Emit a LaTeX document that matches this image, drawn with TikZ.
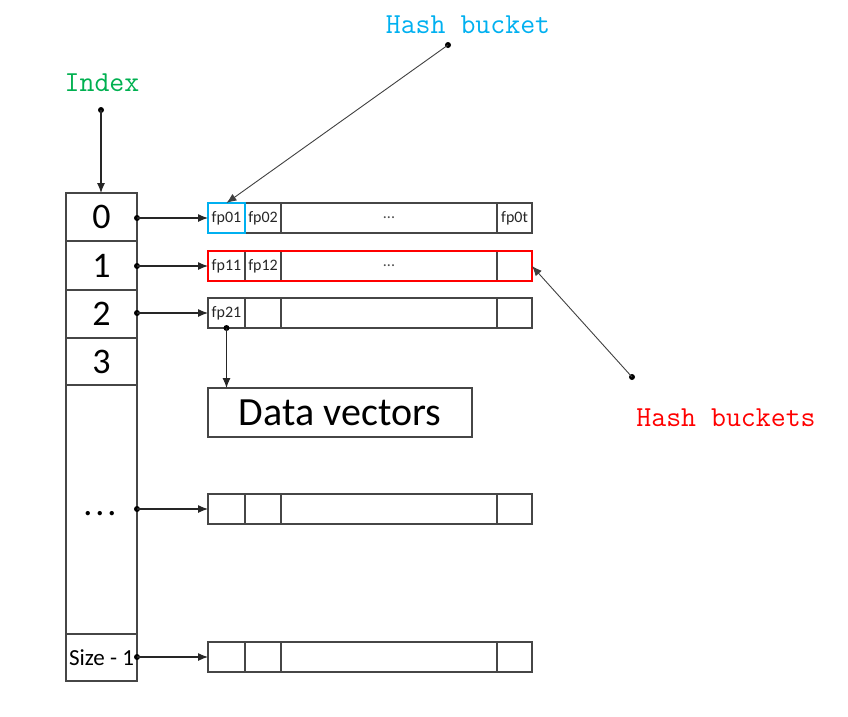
\documentclass[tikz,border=0pt]{standalone}
\usepackage{fontspec}
\setsansfont{Carlito}
\usetikzlibrary{arrows.meta}
\definecolor{linegray}{RGB}{70,70,70}
\definecolor{idxgreen}{RGB}{0,176,80}
\definecolor{hbblue}{RGB}{0,176,240}
\definecolor{hbred}{RGB}{255,0,0}
\tikzset{
  x=1pt, y=-1pt,
  box/.style={draw=linegray, line width=1.2pt, rectangle, inner sep=0pt, outer sep=0pt, anchor=north west},
  idxcell/.style={box, minimum width=71pt, font=\sffamily\fontsize{36}{36}\selectfont},
  bcell/.style={box, minimum height=30pt, font=\sffamily\fontsize{16}{16}\selectfont, text=black!85},
  ptr/.style={draw=black!85, line width=1.1pt, -{Latex[length=10pt,width=8pt]}},
  lead/.style={draw=black!75, line width=0.9pt, -{Latex[length=10pt,width=8pt]}},
  dot/.style={fill=black},
  lbl/.style={font=\ttfamily\fontsize{29}{29}\selectfont}
}
\newcommand{\bucketrow}[5]{%
  \node[bcell, minimum width=37pt] (#1a) at (208,#2) {#3};
  \node[bcell, minimum width=36pt] (#1b) at (245,#2) {#4};
  \node[bcell, minimum width=216pt] (#1c) at (281,#2) {};
  \node[bcell, minimum width=35pt] (#1d) at (497,#2) {#5};
}
\begin{document}
\begin{tikzpicture}
\useasboundingbox (0,0) rectangle (848,716);
% index column
\node[idxcell, minimum height=48pt] (i0) at (66,193) {0};
\node[idxcell, minimum height=49pt] (i1) at (66,241) {1};
\node[idxcell, minimum height=48pt] (i2) at (66,290) {2};
\node[idxcell, minimum height=47pt] (i3) at (66,338) {3};
\node[idxcell, minimum height=249pt] (idots) at (66,385) {};
\node[font=\sffamily\fontsize{36}{36}\selectfont] (idotstxt) at (100,514) {.\hspace{3pt}.\hspace{3pt}.};
\node[idxcell, minimum height=47pt, font=\sffamily\fontsize{23}{23}\selectfont] (ilast) at (66,634) {Size - 1};
% buckets
\bucketrow{r0}{203}{fp01}{fp02}{fp0t}
\bucketrow{r1}{251}{fp11}{fp12}{}
\bucketrow{r2}{298}{fp21}{}{}
\bucketrow{r3}{494}{}{}{}
\bucketrow{r4}{642}{}{}{}
\node[font=\sffamily\fontsize{16}{16}\selectfont, text=black!70] (r0dots) at (r0c.center) {...};
\node[font=\sffamily\fontsize{16}{16}\selectfont, text=black!70] (r1dots) at (r1c.center) {...};
% highlight boxes
\draw[hbblue, line width=2.4pt] (r0a.north west) rectangle (r0a.south east);
\draw[hbred, line width=2.4pt] (r1a.north west) rectangle (r1d.south east);
% data vectors
\node[box, minimum width=264pt, minimum height=49pt, font=\sffamily\fontsize{40}{40}\selectfont] (dv) at (208,388) {Data vectors};
% pointers
\foreach \s/\t in {i0/r0a, i1/r1a, i2/r2a, idots/r3a, ilast/r4a}{
  \coordinate (s) at (\s.east |- \t.west);
  \fill[dot] (s) circle (3pt);
  \draw[ptr] (s) -- (\t.west);
}
\coordinate (fpd) at (r2a.south);
\fill[dot] (fpd) circle (3pt);
\draw[ptr] (fpd) -- (fpd |- dv.north);
% labels
\node[lbl, text=idxgreen] (idxlbl) at (102,83) {Index};
\coordinate (idxdot) at (101,110);
\fill[dot] (idxdot) circle (3pt);
\draw[ptr] (idxdot) -- (idxdot |- i0.north);
\node[lbl, text=hbblue] (hblbl) at (468,25) {Hash bucket};
\coordinate (hbdot) at (448,45);
\fill[dot] (hbdot) circle (3pt);
\draw[lead] (hbdot) -- (r0a.north);
\node[lbl, text=hbred] (hbslbl) at (726,418) {Hash buckets};
\coordinate (hbsdot) at (632,377);
\fill[dot] (hbsdot) circle (3pt);
\draw[lead] (hbsdot) -- (r1d.east);
\end{tikzpicture}
\end{document}
